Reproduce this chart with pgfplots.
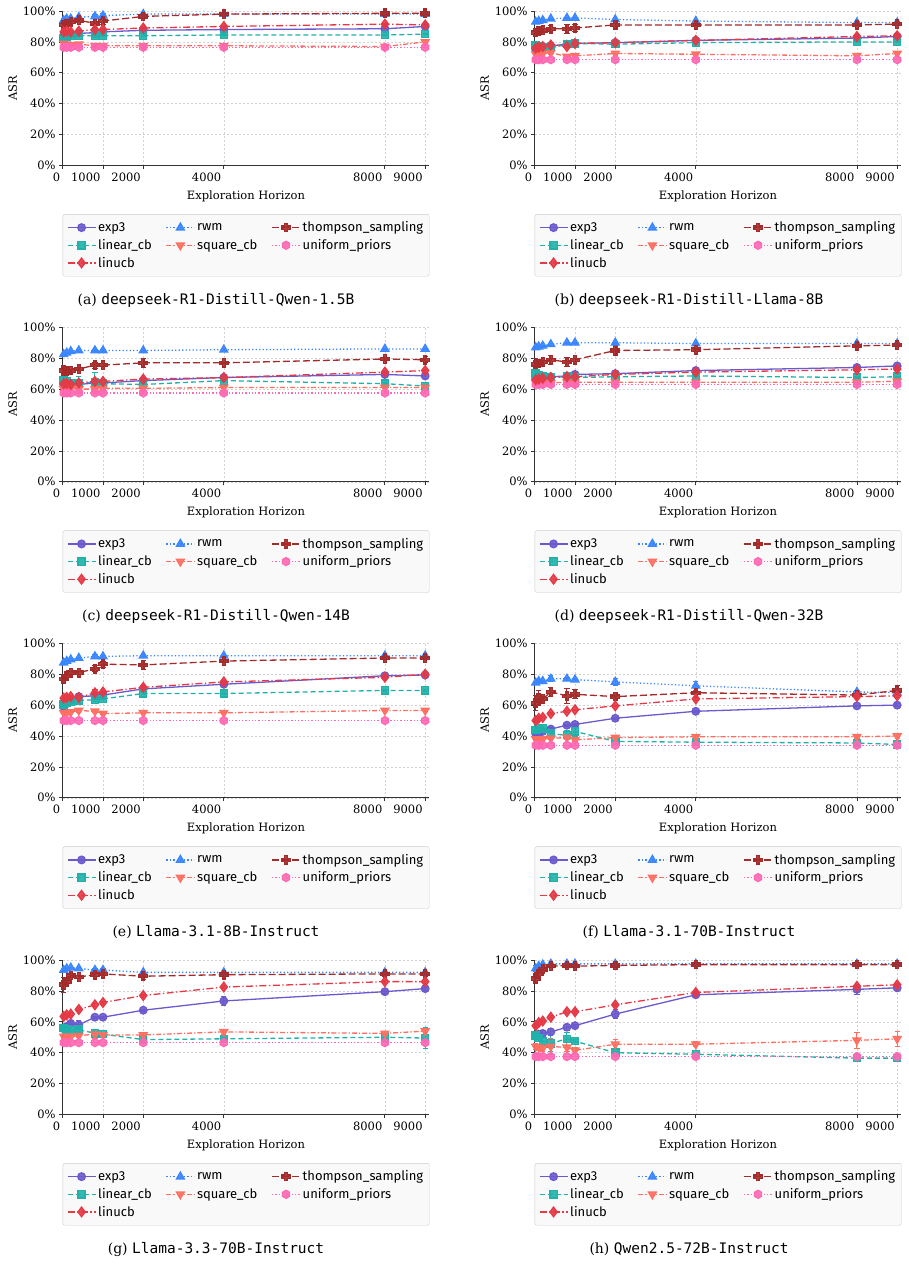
\documentclass[border=0pt]{standalone}
\usepackage{fontspec}
\setmainfont{DejaVu Serif}
\newfontfamily\legfont{Fira Sans}
\newfontfamily\capmono{DejaVu Sans Mono}
\usepackage{pgfplots}
\usepackage{pgfplotstable}
\pgfplotsset{compat=1.18}

\definecolor{cexp}{HTML}{6A5ACD}
\definecolor{clcb}{HTML}{20B2AA}
\definecolor{clin}{HTML}{E63946}
\definecolor{crwm}{HTML}{3A86FF}
\definecolor{csq}{HTML}{FF6F61}
\definecolor{cts}{HTML}{A52A2A}
\definecolor{cun}{HTML}{FF69B4}

% filled plus marker
\pgfdeclareplotmark{fatplus}{%
  \pgfpathmoveto{\pgfqpoint{-0.38\pgfplotmarksize}{\pgfplotmarksize}}%
  \pgfpathlineto{\pgfqpoint{0.38\pgfplotmarksize}{\pgfplotmarksize}}%
  \pgfpathlineto{\pgfqpoint{0.38\pgfplotmarksize}{0.38\pgfplotmarksize}}%
  \pgfpathlineto{\pgfqpoint{\pgfplotmarksize}{0.38\pgfplotmarksize}}%
  \pgfpathlineto{\pgfqpoint{\pgfplotmarksize}{-0.38\pgfplotmarksize}}%
  \pgfpathlineto{\pgfqpoint{0.38\pgfplotmarksize}{-0.38\pgfplotmarksize}}%
  \pgfpathlineto{\pgfqpoint{0.38\pgfplotmarksize}{-\pgfplotmarksize}}%
  \pgfpathlineto{\pgfqpoint{-0.38\pgfplotmarksize}{-\pgfplotmarksize}}%
  \pgfpathlineto{\pgfqpoint{-0.38\pgfplotmarksize}{-0.38\pgfplotmarksize}}%
  \pgfpathlineto{\pgfqpoint{-\pgfplotmarksize}{-0.38\pgfplotmarksize}}%
  \pgfpathlineto{\pgfqpoint{-\pgfplotmarksize}{0.38\pgfplotmarksize}}%
  \pgfpathlineto{\pgfqpoint{-0.38\pgfplotmarksize}{0.38\pgfplotmarksize}}%
  \pgfpathclose\pgfusepathqfillstroke}
% filled hexagon marker
\pgfdeclareplotmark{hexa}{%
  \pgfpathmoveto{\pgfqpoint{0pt}{\pgfplotmarksize}}%
  \pgfpathlineto{\pgfqpoint{0.866\pgfplotmarksize}{0.5\pgfplotmarksize}}%
  \pgfpathlineto{\pgfqpoint{0.866\pgfplotmarksize}{-0.5\pgfplotmarksize}}%
  \pgfpathlineto{\pgfqpoint{0pt}{-\pgfplotmarksize}}%
  \pgfpathlineto{\pgfqpoint{-0.866\pgfplotmarksize}{-0.5\pgfplotmarksize}}%
  \pgfpathlineto{\pgfqpoint{-0.866\pgfplotmarksize}{0.5\pgfplotmarksize}}%
  \pgfpathclose\pgfusepathqfillstroke}

\pgfplotsset{
  ebar/.style={error bars/.cd, y dir=both, y explicit,
    error bar style={solid, line width=0.9pt},
    error mark options={solid, rotate=90, mark size=2.6pt, line width=0.9pt}},
  sexp/.style={color=cexp, solid, line width=1.3pt, mark=*, mark size=3.8pt,
    mark options={solid, fill opacity=0.9}, ebar},
  srwm/.style={color=crwm, line width=1.3pt, dash pattern=on 1.3pt off 2.2pt,
    mark=triangle*, mark size=4.5pt, mark options={solid, fill opacity=0.9}, ebar},
  sts/.style={color=cts, line width=1.3pt, dash pattern=on 7pt off 3pt,
    mark=fatplus, mark size=4.2pt, mark options={solid, fill opacity=0.9}, ebar},
  slcb/.style={color=clcb, line width=1.3pt, dash pattern=on 5pt off 3pt,
    mark=square*, mark size=3.6pt, mark options={solid, fill opacity=0.9}, ebar},
  ssq/.style={color=csq, line width=1.3pt, dash pattern=on 5pt off 2pt on 1.3pt off 2pt,
    mark=triangle*, mark size=4.5pt, mark options={solid, rotate=180, fill opacity=0.9}, ebar},
  sun/.style={color=cun, line width=1.3pt, dash pattern=on 1.3pt off 2pt,
    mark=hexa, mark size=4pt, mark options={solid, fill opacity=0.9}, ebar},
  slin/.style={color=clin, line width=1.3pt, dash pattern=on 7pt off 2.5pt on 1.3pt off 2.5pt,
    mark=diamond*, mark size=4.8pt, mark options={solid, fill opacity=0.9}, ebar},
  panelstyle/.style={
    scale only axis, width=366.5pt, height=154.5pt, anchor=north west,
    xmin=0, xmax=9100, ymin=0, ymax=100, clip=false,
    xtick={0,1000,2000,4000,8000,9000},
    xticklabels={0,1000,2000,4000,8000,9000},
    xticklabel style={anchor=north east, xshift=1pt},
    ytick={0,20,40,60,80,100},
    yticklabels={0\%,20\%,40\%,60\%,80\%,100\%},
    axis x line*=bottom, axis y line*=left,
    axis line style={-, line width=0.8pt, color=black!80},
    tick align=outside, major tick length=3.5pt,
    tick style={black!80, line width=0.8pt},
    grid=major, grid style={dash pattern=on 2pt off 2pt, gray!35, line width=0.5pt},
    xlabel={Exploration Horizon}, ylabel={ASR},
    every axis x label/.style={at={([yshift=-31pt]axis description cs:0.5,0)}, anchor=center},
    every axis y label/.style={at={([xshift=-50pt]axis description cs:0,0.5)}, rotate=90, anchor=center},
    tick label style={font=\fontsize{11.5}{13}\selectfont},
    label style={font=\fontsize{11.5}{13}\selectfont},
    legend columns=3, legend cell align=left,
    legend style={at={(0,-0.3146)}, anchor=north west, fill=black!2.5, draw=black!20,
      rounded corners=2pt, font=\legfont\fontsize{13}{15}\selectfont,
      /tikz/every even column/.append style={column sep=12pt},
      row sep=2pt, inner xsep=4pt, inner ysep=5.5pt},
    legend image code/.code={\draw[mark repeat=2, mark phase=2, ##1]
      plot coordinates {(0pt,0pt) (14pt,0pt) (28pt,0pt)};},
  }
}

% columns: x, then value and error for each strategy
\pgfplotstableread{
x    exp  eexp rwm  erwm ts   ets lcb  elcb sq   esq un   eun lin  elin
25   84   0    94   1    91   1.5 82.5 1    79   0.5 76.5 0   86.5 1
100  84.5 0    95   0.5  92   1   83.5 0.5  78.5 0.5 76.5 0   87   0.5
200  85   0    95   0.5  93   1   84   0.5  78   0.5 76.5 0   86.5 0.5
400  85.5 0    96   0.5  94   1   84   0.5  78.5 1   76.5 0   87   0.5
800  86   0    96.5 1.5  92   3   84   1    77.5 1   76.5 0   88   1.5
1000 86.5 0    97   1.5  93.5 2   84   0.5  77.5 0.5 76.5 0   88   1
2000 87.5 0    98   0.5  96.5 1   84   0.5  77.5 0.5 76.5 0   89   0.5
4000 88   0    98   0.5  98   0.5 84.5 0.5  77.5 0.5 76.5 0   90   0.5
8000 88.5 0    98   0.5  98.5 0.5 84.5 0.5  77   0.5 76.5 0   91.5 0.5
9000 90   0.5  98   0.5  98.5 0.5 85   0.5  80   1   76.5 0   91   0.5
}\tabA
\pgfplotstableread{
x    exp  eexp rwm  erwm ts   ets lcb  elcb sq   esq un   eun lin  elin
25   75   0.5  93   0.5  86   1.5 78   2    72   1   68.5 0   76   1
100  76   0.5  93.5 0.5  87   1.5 77   1    72   1   68.5 0   76.5 1
200  77   0.5  94   0.5  87.5 1   76.5 1    72.5 1   68.5 0   77   0.5
400  77.5 0.5  95   0.5  88.5 2   76   1    73   1   68.5 0   78   0.5
800  78.5 0.5  95.5 0.5  88.5 3   78.5 1    70.5 1   68.5 0   77   0.5
1000 79   0.5  95.5 0.5  89   2   79   0.5  71   1   68.5 0   79   0.5
2000 79.5 0.5  94.5 0.5  91   1   78.5 0.5  72.5 1   68.5 0   79.5 0.5
4000 81   0.5  93.5 0.5  91   0.5 79.5 0.5  72   0.5 68.5 0   81   0.5
8000 82.5 0.5  92.5 0.5  91   0.5 80   0.5  71   0.5 68.5 0   83.5 0.5
9000 83.5 0.5  92.5 0.5  91.5 0.5 80   0.5  72.5 0.5 68.5 0   84   0.5
}\tabB
\pgfplotstableread{
x    exp  eexp rwm  erwm ts   ets lcb  elcb sq   esq un   eun lin  elin
25   63   0.5  82.5 0.5  72   3   66   2    60   0.5 57.5 0   63.5 1
100  63   0.5  83.5 0.5  71.5 2   65   1    60   0.5 57.5 0   63.5 1
200  63   0.5  84.5 0.5  72   1   64   1    60.5 0.5 57.5 0   63   1
400  63   0.5  85   0.5  73   1   64   4    60   0.5 57.5 0   64   1
800  64   0.5  85   0.5  75.5 2   64.5 6    60   0.5 57.5 0   65   1
1000 64   0.5  85   0.5  75.5 1   63.5 1    60.5 0.5 57.5 0   65   0.5
2000 65.5 0.5  85   0.5  77   3   63   0.5  60.5 0.5 57.5 0   66.5 0.5
4000 67.5 0.5  85.5 0.5  77   0.5 65.5 0.5  61   0.5 57.5 0   67.5 0.5
8000 69.5 0.5  86   0.5  79.5 1   63.5 1    61   0.5 57.5 0   71   1
9000 68.5 1.5  86   0.5  79   2   62   1    61   0.5 57.5 0   72   1
}\tabC
\pgfplotstableread{
x    exp  eexp rwm  erwm ts   ets lcb  elcb sq   esq un   eun lin  elin
25   66.5 0.5  87   0.5  76   4   70   2    64   0.5 63   0   66   1
100  67   0.5  87.5 0.5  76.5 2   69   1    64   0.5 63   0   66.5 0.5
200  67.5 0.5  88   0.5  77.5 1   68   1    64   0.5 63   0   67   0.5
400  68   0.5  89   0.5  79   3   67.5 1    64   0.5 63   0   67.5 0.5
800  68.5 0.5  90   0.5  77.5 3   68   1    64.5 0.5 63   0   68   0.5
1000 69.5 0.5  90   0.5  79   1   67.5 0.5  64.5 0.5 63   0   68   0.5
2000 70   0.5  90   0.5  85   3   68   0.5  64.5 0.5 63   0   69.5 0.5
4000 72   0.5  89.5 0.5  85.5 1   68.5 0.5  64.5 0.5 63   0   71   1
8000 74   0.5  89.5 0.5  88   1   67.5 0.5  64.5 0.5 63   0   72.5 1
9000 75   0.5  89.5 0.5  88.5 1   68   0.5  65   0.5 63   0   73   1
}\tabD
\pgfplotstableread{
x    exp  eexp rwm  erwm ts   ets lcb  elcb sq   esq un   eun lin  elin
25   59   0.5  87.5 0.5  77   1   60.5 1    55   0.5 50   0   64.5 1
100  61   0.5  88.5 0.5  79   1   61.5 1    55   0.5 50   0   65   1
200  63   0.5  89.5 0.5  81   1   62   1    55.5 0.5 50   0   65.5 1
400  65.5 0.5  90.5 0.5  81   1   63   1    56.5 1   50   0   65   0.5
800  66   0.5  91.5 1    83.5 2   63.5 1    56   1   50   0   68   2
1000 66.5 0.5  91.5 0.5  86.5 2   64   0.5  54.5 0.5 50   0   68.5 1
2000 70.5 0.5  92   0.5  86   3   67.5 0.5  55   0.5 50   0   71.5 1
4000 73.5 0.5  92   0.5  88.5 1   67.5 0.5  55   0.5 50   0   75   1
8000 79   0.5  92   0.5  90.5 1   69.5 0.5  56.5 0.5 50   0   78   1
9000 79.5 0.5  92   0.5  90.5 1   69.5 0.5  56.5 0.5 50   0   80   1
}\tabE
\pgfplotstableread{
x    exp  eexp rwm  erwm ts   ets lcb  elcb sq   esq un   eun lin  elin
25   41.5 0.5  74.5 1    61.5 5   44   1.5  38   1   34   0   50   1
100  42   0.5  75.5 1    64.5 5   45   1    38   1   34   0   51.5 1
200  43   0.5  75.5 0.5  64   1   45   1    38   1   34   0   52   0.5
400  44.5 1    77   2    68.5 3   41.5 1    38.5 1   34   0   54.5 0.5
800  47   0.5  77   1    66   5   40.5 3    39   1   34   0   56   0.5
1000 47.5 0.5  76.5 1    67   3   43   3    37.5 1   34   0   57   0.5
2000 51.5 0.5  75   2    65.5 1   36.5 1    39   1   34   0   59.5 0.5
4000 56   0.5  72.5 3    68   1   36   1    39.5 1   34   0   64   1
8000 59.5 0.5  68.5 1    66.5 1   35.5 0.5  39.5 1   34   0   65.5 1
9000 60   1    68   1    69.5 3   34.5 1    40   1.5 34   0   66   1
}\tabF
\pgfplotstableread{
x    exp  eexp rwm  erwm ts   ets lcb  elcb sq   esq un   eun lin  elin
25   55.5 1    93.5 1    84   5   56   1    50.5 1   46.5 0   63.5 1
100  57   1    94.5 1    86   2   55   1    50.5 1   46.5 0   64.5 1
200  59   1    95   0.5  90   1   54.5 1    50.5 1   46.5 0   65   1
400  58   3    94.5 1    89   1   55   1    51   1   46.5 0   68   1
800  63   0.5  93.5 1    90.5 1   52.5 1    52   3   46.5 0   71   1
1000 63   0.5  93.5 1    91   1   52   1    51.5 1   46.5 0   72.5 1
2000 67.5 0.5  92   0.5  89.5 2   48.5 1    51.5 1   46.5 0   77   1
4000 73.5 3    92   0.5  90.5 1   49   1    53.5 1.5 46.5 0   82.5 1
8000 79.5 1    92   0.5  91   1.5 50   1    52.5 1   46.5 0   86   1
9000 81.5 1    92   0.5  91   1.5 49.5 7    54   1   46.5 0   86   1
}\tabG
\pgfplotstableread{
x    exp  eexp rwm  erwm ts   ets lcb  elcb sq   esq un   eun lin  elin
25   51.5 1    94.5 2    88   3   51   2    44   2   37.5 0   57.5 1
100  52   1    96   1    91   2   49.5 2    43.5 2   37.5 0   59.5 1
200  52.5 2    97   0.5  94   1   47.5 2    43   2   37.5 0   60.5 1
400  53.5 2    97.5 0.5  96   1   46   5    44   5   37.5 0   63   1
800  56.5 2    97.5 0.5  96.5 1   49   4    43.5 3   37.5 0   66.5 1
1000 57.5 1    97.5 0.5  96   1   47.5 1    41.5 2   37.5 0   66.5 1
2000 65   3    97.5 0.5  96.5 1   40   1    45.5 3   37.5 0   71   1
4000 77.5 1    97.5 0.5  97   1   39   1    45.5 1.5 37.5 0   79   1
8000 81   3    97.5 0.5  97   1   36.5 1    48   5   37.5 0   83   1
9000 82   2    97.5 0.5  97   1   36.5 1    49   5   37.5 0   84   1
}\tabH

% one subfigure: axis at (#1,#2), data table #3
\newcommand\panel[3]{%
\begin{axis}[panelstyle, at={(#1,#2)}]
  \addplot[sexp] table[x=x, y=exp, y error=eexp] {#3}; \addlegendentry{exp3}
  \addplot[srwm] table[x=x, y=rwm, y error=erwm] {#3}; \addlegendentry{rwm}
  \addplot[sts]  table[x=x, y=ts,  y error=ets]  {#3}; \addlegendentry{thompson\_sampling}
  \addplot[slcb] table[x=x, y=lcb, y error=elcb] {#3}; \addlegendentry{linear\_cb}
  \addplot[ssq]  table[x=x, y=sq,  y error=esq]  {#3}; \addlegendentry{square\_cb}
  \addplot[sun]  table[x=x, y=un,  y error=eun]  {#3}; \addlegendentry{uniform\_priors}
  \addplot[slin] table[x=x, y=lin, y error=elin] {#3}; \addlegendentry{linucb}
\end{axis}}
\newcommand\capt[4]{\node[font=\fontsize{14}{16}\selectfont, anchor=center] at (#1,#2)
  {(#3) {\capmono\fontsize{14.5}{16}\selectfont #4}};}

\begin{document}
\begin{tikzpicture}
\path[use as bounding box] (0pt,0pt) rectangle (908pt,-1266pt);
\panel{62.7pt}{-11pt}{\tabA}
\panel{534.7pt}{-11pt}{\tabB}
\panel{62.7pt}{-327.3pt}{\tabC}
\panel{534.7pt}{-327.3pt}{\tabD}
\panel{62.7pt}{-643.3pt}{\tabE}
\panel{534.7pt}{-643.3pt}{\tabF}
\panel{62.7pt}{-960pt}{\tabG}
\panel{534.7pt}{-960pt}{\tabH}
\capt{216pt}{-300pt}{a}{deepseek-R1-Distill-Qwen-1.5B}
\capt{689pt}{-300pt}{b}{deepseek-R1-Distill-Llama-8B}
\capt{216pt}{-616.5pt}{c}{deepseek-R1-Distill-Qwen-14B}
\capt{689pt}{-616.5pt}{d}{deepseek-R1-Distill-Qwen-32B}
\capt{216pt}{-932.5pt}{e}{Llama-3.1-8B-Instruct}
\capt{689pt}{-932.5pt}{f}{Llama-3.1-70B-Instruct}
\capt{216pt}{-1249pt}{g}{Llama-3.3-70B-Instruct}
\capt{689pt}{-1249pt}{h}{Qwen2.5-72B-Instruct}
\end{tikzpicture}
\end{document}
